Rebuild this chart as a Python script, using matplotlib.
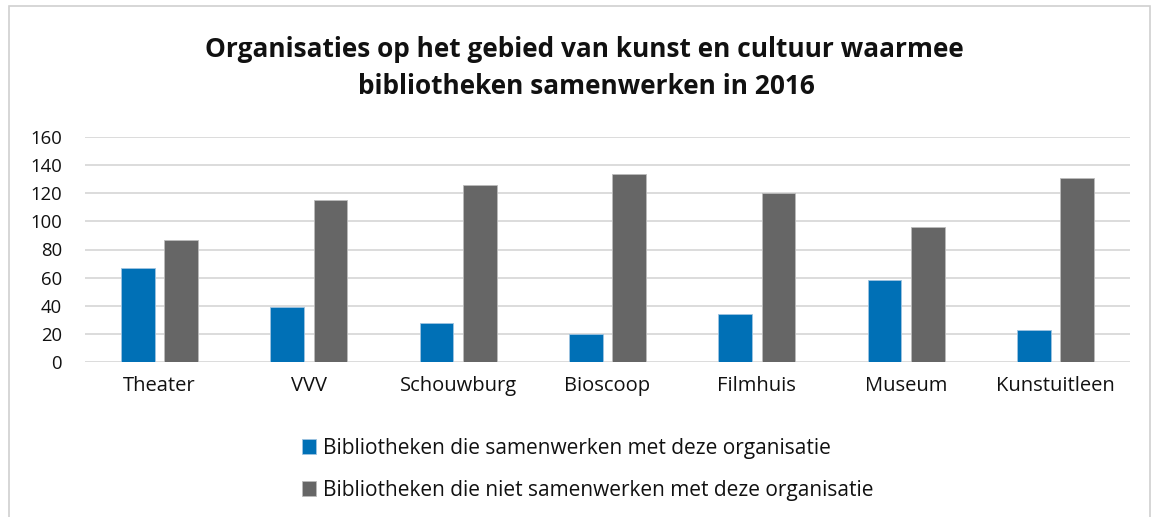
import matplotlib.pyplot as plt
import matplotlib.patches as patches
import numpy as np

plt.rcParams['font.family'] = ['Open Sans', 'DejaVu Sans']

categories = ['Theater', 'VVV', 'Schouwburg', 'Bioscoop', 'Filmhuis', 'Museum', 'Kunstuitleen']
wel = [67, 39, 28, 20, 34, 58, 23]
niet = [87, 115, 126, 134, 120, 96, 131]

blue = '#0070b6'
grey = '#666666'

fig = plt.figure(figsize=(11.53, 5.17), dpi=100)
ax = fig.add_axes([85 / 1153, 1 - 362 / 517, 1045 / 1153, 225 / 517])

x = np.arange(len(categories))
w = 0.225
ax.bar(x - 0.145, wel, w, color=blue, edgecolor='#9fc3e0', linewidth=0.6,
       label='Bibliotheken die samenwerken met deze organisatie')
ax.bar(x + 0.145, niet, w, color=grey, edgecolor='#bbbbbb', linewidth=0.6,
       label='Bibliotheken die niet samenwerken met deze organisatie')

ax.set_xlim(-0.5, len(categories) - 0.5)
ax.set_ylim(0, 160)
ax.set_yticks(range(0, 161, 20))
ax.set_xticks(x)
ax.set_xticklabels(categories)
ax.tick_params(axis='both', length=0, colors='#111111')
ax.tick_params(axis='x', pad=10, labelsize=14.5)
ax.tick_params(axis='y', pad=16.5, labelsize=13.3)
ax.grid(axis='y', color='#d9d9d9', linewidth=1.3)
ax.set_axisbelow(True)
for s in ax.spines.values():
    s.set_visible(False)

fig.text(584 / 1153, 1 - 50 / 517, 'Organisaties op het gebied van kunst en cultuur waarmee',
         ha='center', va='center', fontsize=18.9, fontweight='bold', color='#111111')
fig.text(586 / 1153, 1 - 87 / 517, 'bibliotheken samenwerken in 2016',
         ha='center', va='center', fontsize=18.9, fontweight='bold', color='#111111')

h, l = ax.get_legend_handles_labels()
leg = fig.legend(h, l, loc='upper left', bbox_to_anchor=(283 / 1153, 1 - 419 / 517),
                 frameon=False, fontsize=15.0, handlelength=0.7, handleheight=0.7,
                 handletextpad=0.3, labelspacing=1.0)
for t in leg.get_texts():
    t.set_color('#111111')

# rand om de grafiek
fig.add_artist(patches.Rectangle((9 / 1153, -0.02), 1141 / 1153, 1 - 6 / 517 + 0.02,
                                 transform=fig.transFigure, fill=False,
                                 edgecolor='#d0d0d0', linewidth=1.2))

fig.savefig('out.png', dpi=100)
